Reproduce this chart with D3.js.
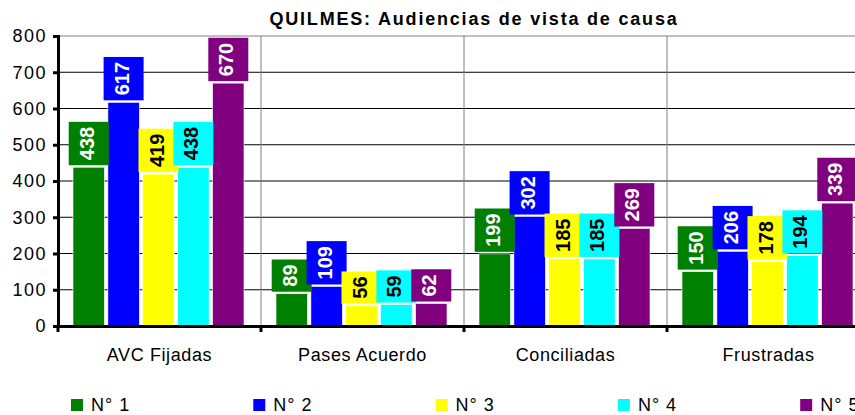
<!DOCTYPE html>
<html>
<head>
<meta charset="utf-8">
<script src="https://cdn.jsdelivr.net/npm/d3@7"></script>
<style>
  body { margin: 0; background: #fff; }
  svg { font-family: "Liberation Sans", Arial, sans-serif; }
</style>
</head>
<body>
<svg id="chart" width="855" height="415"></svg>
<script>
const title = "QUILMES: Audiencias de vista de causa";
const categories = ["AVC Fijadas", "Pases Acuerdo", "Conciliadas", "Frustradas"];
const seriesNames = ["N° 1", "N° 2", "N° 3", "N° 4", "N° 5"];
const n1 = [438, 89, 199, 150];
const n2 = [617, 109, 302, 206];
const n3 = [419, 56, 185, 178];
const n4 = [438, 59, 185, 194];
const n5 = [670, 62, 269, 339];
const yTicks = [0, 100, 200, 300, 400, 500, 600, 700, 800];

const seriesValues = [n1, n2, n3, n4, n5];
const colors = ["#008000", "#0000ff", "#ffff00", "#00ffff", "#800080"];
const labelColors = ["#fff", "#fff", "#000", "#000", "#fff"];

const svg = d3.select("#chart");

const x0 = d3.scaleBand().domain(categories).range([58, 870]);
const x1 = d3.scaleBand().domain(seriesNames).range([15, 186]).paddingInner(0.1);
const y = d3.scaleLinear().domain([0, 800]).range([326, 36]);

// title
svg.append("text")
  .attr("x", 474).attr("y", 25)
  .attr("text-anchor", "middle")
  .attr("font-size", 18).attr("font-weight", "bold")
  .style("letter-spacing", "1.8px")
  .text(title);

// horizontal grid
svg.append("g")
  .selectAll("line")
  .data(yTicks.filter(d => d > 0))
  .enter().append("line")
  .attr("x1", 58).attr("x2", 855)
  .attr("y1", d => y(d)).attr("y2", d => y(d))
  .attr("stroke", d => d === 800 ? "#808080" : "#000")
  .attr("stroke-width", 1);

// category separators
svg.append("g")
  .selectAll("line")
  .data(categories.slice(1))
  .enter().append("line")
  .attr("x1", d => x0(d)).attr("x2", d => x0(d))
  .attr("y1", y(800)).attr("y2", y(0))
  .attr("stroke", "#808080");

// bars
const groups = svg.append("g")
  .selectAll("g")
  .data(categories)
  .enter().append("g")
  .attr("transform", d => `translate(${x0(d)},0)`);

groups.selectAll("rect")
  .data((c, ci) => seriesNames.map((s, si) => ({ s, si, v: seriesValues[si][ci] })))
  .enter().append("rect")
  .attr("x", d => x1(d.s))
  .attr("width", x1.bandwidth())
  .attr("y", d => y(d.v))
  .attr("height", d => y(0) - y(d.v))
  .attr("fill", d => colors[d.si])
  .attr("stroke", "#fff").attr("stroke-width", 0.6);

// value label boxes
groups.each(function (c, ci) {
  const g = d3.select(this);
  seriesNames.forEach((s, si) => {
    const v = seriesValues[si][ci];
    const cx = x1(s) + x1.bandwidth() / 2;
    const lab = g.append("g");
    const box = lab.append("rect").attr("fill", colors[si]);
    const t = lab.append("text")
      .attr("font-size", 20).attr("font-weight", "bold")
      .attr("fill", labelColors[si])
      .attr("text-anchor", "middle")
      .text(v);
    const len = t.node().getComputedTextLength();
    const h = len + 10;
    const bottom = y(v) - 2;
    box.attr("x", cx - 20).attr("width", 40)
      .attr("y", bottom - h).attr("height", h);
    t.attr("transform", `translate(${cx + 5},${bottom - h / 2}) rotate(-90)`);
  });
});

// left axis
const yAxis = svg.append("g").attr("transform", "translate(58,0)")
  .call(d3.axisLeft(y).tickValues(yTicks).tickSize(5).tickPadding(6));
yAxis.select(".domain").attr("stroke", "#000").attr("stroke-width", 3);
yAxis.selectAll(".tick line").attr("stroke", "#000").attr("stroke-width", 3);
yAxis.selectAll(".tick text")
  .attr("font-size", 18).attr("fill", "#000")
  .attr("font-family", "Liberation Sans, Arial, sans-serif")
  .style("letter-spacing", "1.5px");

// bottom axis
const xAxis = svg.append("g").attr("transform", `translate(0,${y(0)})`)
  .call(d3.axisBottom(x0).tickSize(0).tickPadding(22));
xAxis.select(".domain").attr("stroke", "#000").attr("stroke-width", 3);
xAxis.selectAll(".tick text")
  .attr("font-size", 18).attr("fill", "#000")
  .attr("font-family", "Liberation Sans, Arial, sans-serif")
  .style("letter-spacing", "0.6px");
svg.append("g")
  .selectAll("line")
  .data(categories)
  .enter().append("line")
  .attr("x1", d => x0(d)).attr("x2", d => x0(d))
  .attr("y1", y(0)).attr("y2", y(0) + 6)
  .attr("stroke", "#000").attr("stroke-width", 3);

// legend
const legend = svg.append("g")
  .selectAll("g")
  .data(seriesNames)
  .enter().append("g")
  .attr("transform", (d, i) => `translate(${71 + i * 182.3},399)`);
legend.append("rect")
  .attr("width", 12).attr("height", 12)
  .attr("fill", (d, i) => colors[i]);
legend.append("text")
  .attr("x", 20).attr("y", 12)
  .attr("font-size", 18)
  .style("letter-spacing", "1px")
  .text(d => d);
</script>
</body>
</html>
